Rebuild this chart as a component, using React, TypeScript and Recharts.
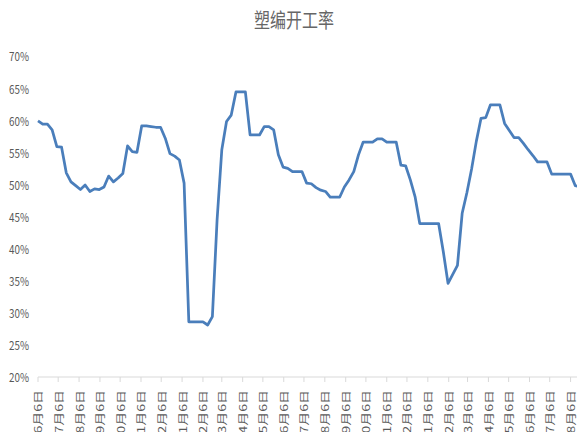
import { LineChart, Line, XAxis, YAxis } from "recharts";

const DAY_MS = 86400000;
const START_UTC = Date.UTC(2017, 5, 6);

// weekly operating rate of woven-plastic plants, %
const operatingRate = [
  59.9, 59.4, 59.4, 58.5, 55.9, 55.8, 51.8, 50.4, 49.8, 49.2,
  49.9, 48.9, 49.3, 49.2, 49.6, 51.3, 50.4, 51.0, 51.7, 56.0,
  55.1, 55.0, 59.1, 59.1, 59.0, 58.9, 58.9, 57.2, 54.8, 54.4,
  53.8, 50.2, 28.6, 28.6, 28.6, 28.6, 28.1, 29.4, 44.5, 55.4,
  59.8, 60.8, 64.4, 64.4, 64.4, 57.7, 57.7, 57.7, 59.0, 59.0,
  58.5, 54.6, 52.7, 52.5, 52.0, 52.0, 52.0, 50.2, 50.1, 49.5,
  49.1, 48.9, 48.0, 48.0, 48.0, 49.6, 50.7, 52.0, 54.6, 56.6,
  56.6, 56.6, 57.1, 57.1, 56.6, 56.6, 56.6, 53.0, 52.9, 50.7,
  48.1, 43.9, 43.9, 43.9, 43.9, 43.9, 39.5, 34.6, 36.0, 37.4,
  45.5, 48.7, 52.4, 56.7, 60.3, 60.4, 62.4, 62.4, 62.4, 59.5,
  58.4, 57.3, 57.3, 56.4, 55.4, 54.5, 53.5, 53.5, 53.5, 51.6,
  51.6, 51.6, 51.6, 51.6, 49.8, 49.6,
];

const monthLabels = [
  "6月6日", "7月6日", "8月6日", "9月6日", "10月6日", "11月6日", "12月6日",
  "1月6日", "2月6日", "3月6日", "4月6日", "5月6日", "6月6日", "7月6日",
  "8月6日", "9月6日", "10月6日", "11月6日", "12月6日", "1月6日", "2月6日",
  "3月6日", "4月6日", "5月6日", "6月6日", "7月6日", "8月6日",
];

const percentTicks = [20, 25, 30, 35, 40, 45, 50, 55, 60, 65, 70];

// one point per week, x = days since the first week
const data = operatingRate.map((rate, i) => ({ day: i * 7, rate }));

// each month label sits on the 6th of its month
const monthTickDays = monthLabels.map(
  (_, k) => Math.round((Date.UTC(2017, 5 + k, 6) - START_UTC) / DAY_MS)
);

const LAST_DAY = data[data.length - 1].day;
const TEXT = "#595959";
const FONT = "'Noto Sans CJK SC', 'Noto Sans', sans-serif";

function MonthTick({ x, y, payload }: any) {
  const idx = monthTickDays.indexOf(payload.value);
  return (
    <text
      transform={`translate(${x},${y}) scale(0.7,1) rotate(-90)`}
      textAnchor="end"
      dominantBaseline="central"
      fontSize={14}
      fontFamily={FONT}
      fill={TEXT}
    >
      {monthLabels[idx]}
    </text>
  );
}

function PercentTick({ x, y, payload }: any) {
  return (
    <text
      transform={`translate(${x},${y}) scale(0.82,1)`}
      textAnchor="end"
      dominantBaseline="central"
      fontSize={12}
      fontFamily={FONT}
      fill={TEXT}
    >
      {`${payload.value}%`}
    </text>
  );
}

export default function App() {
  return (
    <div
      style={{
        position: "absolute",
        left: 0,
        top: 0,
        width: 577,
        height: 432,
        overflow: "hidden",
        background: "#fff",
      }}
    >
      <div
        style={{
          position: "absolute",
          left: 0,
          top: 10,
          width: 588,
          textAlign: "center",
          fontFamily: FONT,
          fontSize: 20,
          lineHeight: "20px",
          color: "#666",
          transform: "scaleX(0.8)",
        }}
      >
        塑编开工率
      </div>
      <LineChart
        width={590}
        height={432}
        data={data}
        margin={{ top: 56, right: 10, bottom: 0, left: 0 }}
      >
        <XAxis
          dataKey="day"
          type="number"
          domain={[0, LAST_DAY]}
          ticks={monthTickDays}
          interval={0}
          height={55}
          tickSize={5}
          tickMargin={8}
          stroke="#d9d9d9"
          tick={<MonthTick />}
        />
        <YAxis
          domain={[20, 70]}
          ticks={percentTicks}
          width={38}
          axisLine={false}
          tickLine={false}
          tickSize={0}
          tickMargin={9}
          tick={<PercentTick />}
        />
        <Line
          type="linear"
          dataKey="rate"
          stroke="#4A7EBB"
          strokeWidth={2.75}
          strokeLinejoin="round"
          dot={false}
          isAnimationActive={false}
        />
      </LineChart>
    </div>
  );
}
